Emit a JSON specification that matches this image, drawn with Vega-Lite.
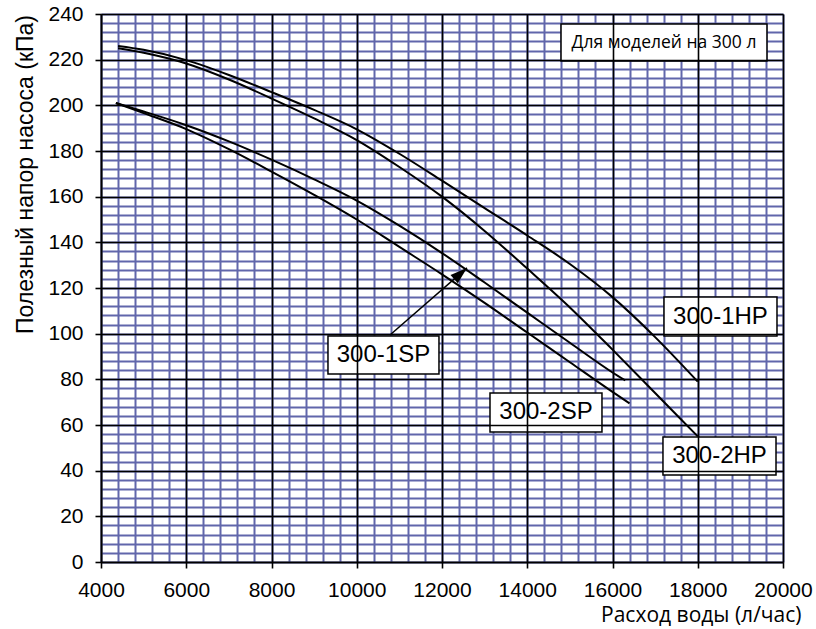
{
  "$schema": "https://vega.github.io/schema/vega-lite/v6.json",
  "width": 682,
  "height": 548,
  "autosize": "none",
  "padding": {"left": 101, "top": 14, "right": 33, "bottom": 67},
  "background": "white",
  "config": {"view": {"stroke": null}},
  "datasets": {
    "curves": [
      {"model": "300-1HP", "q": 4400, "p": 226},
      {"model": "300-1HP", "q": 5000, "p": 224.3},
      {"model": "300-1HP", "q": 6000, "p": 219.8},
      {"model": "300-1HP", "q": 7000, "p": 213.3},
      {"model": "300-1HP", "q": 8000, "p": 205.8},
      {"model": "300-1HP", "q": 9000, "p": 198},
      {"model": "300-1HP", "q": 10000, "p": 189.5},
      {"model": "300-1HP", "q": 11000, "p": 178.8},
      {"model": "300-1HP", "q": 12000, "p": 167},
      {"model": "300-1HP", "q": 13000, "p": 155},
      {"model": "300-1HP", "q": 14000, "p": 143},
      {"model": "300-1HP", "q": 15000, "p": 130.5},
      {"model": "300-1HP", "q": 16000, "p": 116},
      {"model": "300-1HP", "q": 17000, "p": 98.5},
      {"model": "300-1HP", "q": 18000, "p": 79},
      {"model": "300-2HP", "q": 4400, "p": 225},
      {"model": "300-2HP", "q": 5000, "p": 223},
      {"model": "300-2HP", "q": 6000, "p": 218.3},
      {"model": "300-2HP", "q": 7000, "p": 211.3},
      {"model": "300-2HP", "q": 8000, "p": 203},
      {"model": "300-2HP", "q": 9000, "p": 194.3},
      {"model": "300-2HP", "q": 10000, "p": 184.8},
      {"model": "300-2HP", "q": 11000, "p": 173},
      {"model": "300-2HP", "q": 12000, "p": 160},
      {"model": "300-2HP", "q": 13000, "p": 145},
      {"model": "300-2HP", "q": 14000, "p": 128.5},
      {"model": "300-2HP", "q": 15000, "p": 111.5},
      {"model": "300-2HP", "q": 16000, "p": 93},
      {"model": "300-2HP", "q": 17000, "p": 74},
      {"model": "300-2HP", "q": 18000, "p": 55},
      {"model": "300-1SP", "q": 4350, "p": 201},
      {"model": "300-1SP", "q": 5000, "p": 197.3},
      {"model": "300-1SP", "q": 6000, "p": 191.3},
      {"model": "300-1SP", "q": 7000, "p": 184.2},
      {"model": "300-1SP", "q": 8000, "p": 176.2},
      {"model": "300-1SP", "q": 9000, "p": 167.6},
      {"model": "300-1SP", "q": 10000, "p": 158.3},
      {"model": "300-1SP", "q": 11000, "p": 147.3},
      {"model": "300-1SP", "q": 12000, "p": 135.3},
      {"model": "300-1SP", "q": 13000, "p": 122.4},
      {"model": "300-1SP", "q": 14000, "p": 109.2},
      {"model": "300-1SP", "q": 15000, "p": 96},
      {"model": "300-1SP", "q": 16000, "p": 83},
      {"model": "300-1SP", "q": 16300, "p": 79.5},
      {"model": "300-2SP", "q": 4350, "p": 201},
      {"model": "300-2SP", "q": 5000, "p": 196.6},
      {"model": "300-2SP", "q": 6000, "p": 189.6},
      {"model": "300-2SP", "q": 7000, "p": 180.8},
      {"model": "300-2SP", "q": 8000, "p": 171},
      {"model": "300-2SP", "q": 9000, "p": 160.8},
      {"model": "300-2SP", "q": 10000, "p": 150},
      {"model": "300-2SP", "q": 11000, "p": 138},
      {"model": "300-2SP", "q": 12000, "p": 126},
      {"model": "300-2SP", "q": 13000, "p": 113.5},
      {"model": "300-2SP", "q": 14000, "p": 100.5},
      {"model": "300-2SP", "q": 15000, "p": 87.5},
      {"model": "300-2SP", "q": 16000, "p": 74.5},
      {"model": "300-2SP", "q": 16400, "p": 69.5}
    ],
    "labels": [
      {"label": "300-1HP", "x1": 17208, "x2": 19859, "y1": 116.1, "y2": 99.0, "tx": 18533, "ty": 107.5},
      {"label": "300-2HP", "x1": 17184, "x2": 19836, "y1": 54.7, "y2": 38.1, "tx": 18510, "ty": 46.4},
      {"label": "300-2SP", "x1": 13126, "x2": 15753, "y1": 74.0, "y2": 56.9, "tx": 14440, "ty": 65.5},
      {"label": "300-1SP", "x1": 9325, "x2": 11929, "y1": 99.0, "y2": 82.3, "tx": 10627, "ty": 90.7}
    ],
    "note": [
      {"label": "Для моделей на 300 л", "x1": 14792, "x2": 19624, "y1": 235.6, "y2": 219.4, "tx": 17208, "ty": 227.5}
    ],
    "arrow": [
      {"x1": 10780, "y1": 99.4, "x2": 12586, "y2": 128.8}
    ]
  },
  "layer": [
    {
      "data": {"name": "curves"},
      "mark": {"type": "line", "interpolate": "monotone", "color": "black", "strokeWidth": 2},
      "encoding": {
        "x": {
          "field": "q", "type": "quantitative",
          "scale": {"domain": [4000, 20000], "nice": false, "zero": false},
          "axis": {
            "orient": "top", "title": null, "labels": false, "ticks": false, "domain": false,
            "grid": true, "gridColor": "#6166ab", "gridWidth": 2, "gridOpacity": 1, "zindex": 0,
            "values": [4000,4400,4800,5200,5600,6000,6400,6800,7200,7600,8000,8400,8800,9200,9600,10000,10400,10800,11200,11600,12000,12400,12800,13200,13600,14000,14400,14800,15200,15600,16000,16400,16800,17200,17600,18000,18400,18800,19200,19600,20000]
          }
        },
        "y": {
          "field": "p", "type": "quantitative",
          "scale": {"domain": [0, 240], "nice": false},
          "axis": {
            "orient": "right", "title": null, "labels": false, "ticks": false, "domain": false,
            "grid": true, "gridColor": "#6166ab", "gridWidth": 2, "gridOpacity": 1, "zindex": 0,
            "values": [0,4,8,12,16,20,24,28,32,36,40,44,48,52,56,60,64,68,72,76,80,84,88,92,96,100,104,108,112,116,120,124,128,132,136,140,144,148,152,156,160,164,168,172,176,180,184,188,192,196,200,204,208,212,216,220,224,228,232,236,240]
          }
        },
        "detail": {"field": "model", "type": "nominal"}
      }
    },
    {
      "data": {"name": "labels"},
      "mark": {"type": "rect", "fill": "white", "stroke": "black", "strokeWidth": 1.5, "zindex": 2},
      "encoding": {
        "x": {
          "field": "x1", "type": "quantitative",
          "scale": {"domain": [4000, 20000], "nice": false, "zero": false},
          "axis": {
            "orient": "bottom", "title": "Расход воды (л/час)",
            "values": [4000,6000,8000,10000,12000,14000,16000,18000,20000],
            "format": "d",
            "grid": true, "gridColor": "black", "gridWidth": 1.6, "gridOpacity": 1,
            "domain": true, "domainColor": "black", "domainWidth": 1.6,
            "ticks": true, "tickColor": "black", "tickWidth": 1.6, "tickSize": 6,
            "labelFont": "Liberation Sans", "labelFontSize": 21, "labelColor": "black", "labelPadding": 11,
            "labelFlush": false, "labelOverlap": false,
            "titleFont": "Open Sans", "titleFontSize": 21, "titleFontWeight": "normal", "titleColor": "black",
            "titleAlign": "right", "titleBaseline": "alphabetic", "titleX": 700, "titleY": 59,
            "zindex": 1
          }
        },
        "x2": {"field": "x2"},
        "y": {
          "field": "y1", "type": "quantitative",
          "scale": {"domain": [0, 240], "nice": false},
          "axis": {
            "orient": "left", "title": "Полезный напор насоса (кПа)",
            "values": [0,20,40,60,80,100,120,140,160,180,200,220,240],
            "grid": true, "gridColor": "black", "gridWidth": 1.6, "gridOpacity": 1,
            "domain": true, "domainColor": "black", "domainWidth": 1.6,
            "ticks": true, "tickColor": "black", "tickWidth": 1.6, "tickSize": 6,
            "labelFont": "Liberation Sans", "labelFontSize": 21, "labelColor": "black", "labelPadding": 12,
            "labelFlush": false, "labelOverlap": false,
            "titleFont": "Liberation Sans", "titleFontSize": 23, "titleFontWeight": "normal", "titleColor": "black",
            "titleAngle": -90, "titleAlign": "center", "titleBaseline": "alphabetic", "titleX": -69, "titleY": 160,
            "zindex": 1
          }
        },
        "y2": {"field": "y2"}
      }
    },
    {
      "data": {"name": "labels"},
      "mark": {"type": "text", "font": "Liberation Sans", "fontSize": 24, "color": "black", "align": "center", "baseline": "middle", "zindex": 3},
      "encoding": {
        "x": {"field": "tx", "type": "quantitative", "scale": {"domain": [4000, 20000], "nice": false, "zero": false}, "axis": null},
        "y": {"field": "ty", "type": "quantitative", "scale": {"domain": [0, 240], "nice": false}, "axis": null},
        "text": {"field": "label"}
      }
    },
    {
      "data": {"name": "note"},
      "mark": {"type": "rect", "fill": "white", "stroke": "black", "strokeWidth": 1.5, "zindex": 2},
      "encoding": {
        "x": {"field": "x1", "type": "quantitative", "scale": {"domain": [4000, 20000], "nice": false, "zero": false}, "axis": null},
        "x2": {"field": "x2"},
        "y": {"field": "y1", "type": "quantitative", "scale": {"domain": [0, 240], "nice": false}, "axis": null},
        "y2": {"field": "y2"}
      }
    },
    {
      "data": {"name": "note"},
      "mark": {"type": "text", "font": "Open Sans", "fontSize": 17.5, "color": "black", "align": "center", "baseline": "middle", "zindex": 3},
      "encoding": {
        "x": {"field": "tx", "type": "quantitative", "scale": {"domain": [4000, 20000], "nice": false, "zero": false}, "axis": null},
        "y": {"field": "ty", "type": "quantitative", "scale": {"domain": [0, 240], "nice": false}, "axis": null},
        "text": {"field": "label"}
      }
    },
    {
      "data": {"name": "arrow"},
      "mark": {"type": "rule", "color": "black", "strokeWidth": 1.5, "zindex": 3},
      "encoding": {
        "x": {"field": "x1", "type": "quantitative", "scale": {"domain": [4000, 20000], "nice": false, "zero": false}, "axis": null},
        "y": {"field": "y1", "type": "quantitative", "scale": {"domain": [0, 240], "nice": false}, "axis": null},
        "x2": {"field": "x2"},
        "y2": {"field": "y2"}
      }
    },
    {
      "data": {"name": "arrow"},
      "mark": {"type": "point", "shape": "M0,0L0.65,2L-0.65,2Z", "filled": true, "color": "black", "opacity": 1, "size": 289, "angle": 49, "strokeWidth": 0, "zindex": 4},
      "encoding": {
        "x": {"field": "x2", "type": "quantitative", "scale": {"domain": [4000, 20000], "nice": false, "zero": false}, "axis": null},
        "y": {"field": "y2", "type": "quantitative", "scale": {"domain": [0, 240], "nice": false}, "axis": null}
      }
    }
  ],
  "resolve": {"axis": {"x": "independent", "y": "independent"}}
}
